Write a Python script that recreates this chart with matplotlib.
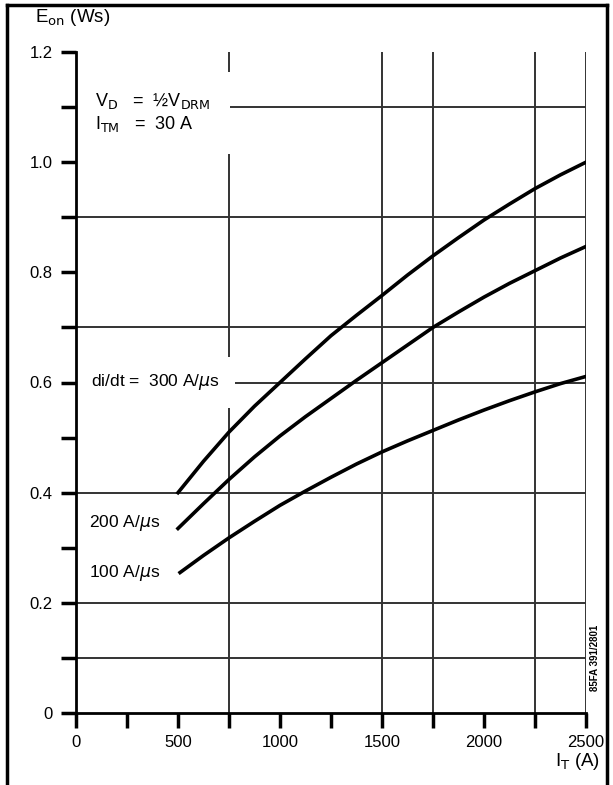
import matplotlib.pyplot as plt
from matplotlib.lines import Line2D

# turn-on energy vs on-state current
i_300 = [500, 625, 750, 875, 1000, 1125, 1250, 1375, 1500, 1625, 1750, 1875, 2000, 2125, 2250, 2375, 2500]
e_300 = [0.40, 0.457, 0.51, 0.557, 0.60, 0.643, 0.685, 0.722, 0.758, 0.795, 0.83, 0.863, 0.895, 0.924, 0.952, 0.977, 1.00]

i_200 = [500, 625, 750, 875, 1000, 1125, 1250, 1375, 1500, 1625, 1750, 1875, 2000, 2125, 2250, 2375, 2500]
e_200 = [0.335, 0.38, 0.424, 0.465, 0.503, 0.538, 0.571, 0.604, 0.636, 0.668, 0.70, 0.728, 0.755, 0.78, 0.803, 0.826, 0.847]

i_100 = [510, 625, 750, 875, 1000, 1125, 1250, 1375, 1500, 1625, 1750, 1875, 2000, 2125, 2250, 2375, 2500]
e_100 = [0.255, 0.286, 0.318, 0.348, 0.377, 0.403, 0.428, 0.452, 0.474, 0.494, 0.513, 0.532, 0.55, 0.567, 0.583, 0.598, 0.611]

x_ticks = [0, 250, 500, 750, 1000, 1250, 1500, 1750, 2000, 2250, 2500]
x_labels = ['0', '', '500', '', '1000', '', '1500', '', '2000', '', '2500']
y_major = [0, 0.2, 0.4, 0.6, 0.8, 1.0, 1.2]
y_minor = [0.1, 0.3, 0.5, 0.7, 0.9, 1.1]
x_grid = [750, 1500, 1750, 2250, 2500]
y_grid = [0.1, 0.2, 0.4, 0.6, 0.7, 0.9, 1.1]

plt.rcParams['font.family'] = ['Liberation Sans', 'DejaVu Sans']

fig = plt.figure(figsize=(6.13, 7.85), dpi=100)
ax = fig.add_axes([76/613, 1 - 713/785, 510/613, 661/785])

# grid lines of the datasheet (only some positions)
for x in x_grid:
    ax.axvline(x, color='#333333', lw=1.4, zorder=1)
for y in y_grid:
    ax.axhline(y, color='#333333', lw=1.4, zorder=1)

ax.plot(i_300, e_300, color='black', lw=2.6, zorder=3)
ax.plot(i_200, e_200, color='black', lw=2.6, zorder=3)
ax.plot(i_100, e_100, color='black', lw=2.6, zorder=3)

ax.set_xlim(0, 2500)
ax.set_ylim(0, 1.2)
ax.set_xticks(x_ticks)
ax.set_xticklabels(x_labels)
ax.set_yticks(y_major)
ax.set_yticklabels(['0', '0.2', '0.4', '0.6', '0.8', '1.0', '1.2'])
ax.set_yticks(y_minor, minor=True)
ax.tick_params(axis='both', which='both', direction='out', length=11, width=2.5,
               labelsize=12, color='black')
ax.tick_params(axis='y', pad=6)
ax.tick_params(axis='x', pad=5)

for s in ['top', 'right']:
    ax.spines[s].set_visible(False)
for s in ['left', 'bottom']:
    ax.spines[s].set_linewidth(2)

ax.text(95, 1.09, r'V$_{\rm D}$   =  ½V$_{\rm DRM}$' + '\n' + r'I$_{\rm TM}$   =  30 A',
        fontsize=13, va='center', ha='left', linespacing=1.2,
        bbox=dict(facecolor='white', edgecolor='none', pad=14), zorder=2)
ax.text(75, 0.60, r'di/dt =  300 A/$\mu$s', fontsize=12.5, va='center', ha='left',
        bbox=dict(facecolor='white', edgecolor='none', pad=11), zorder=2)
ax.text(65, 0.345, r'200 A/$\mu$s', fontsize=12.5, va='center', ha='left', zorder=2)
ax.text(65, 0.255, r'100 A/$\mu$s', fontsize=12.5, va='center', ha='left', zorder=2)
ax.text(2545, 0.04, '85FA 391/2801', fontsize=7, rotation=90, ha='center', va='bottom',
        fontweight='bold')

fig.text(35/613, 1 - 17/785, r'E$_{\rm on}$ (Ws)', fontsize=13.5, va='center', ha='left')
fig.text(578/613, 1 - 762/785, r'I$_{\rm T}$ (A)', fontsize=13.5, va='center', ha='center')

# frame around the whole figure
for xs, ys in [([7/613, 7/613], [0, 1 - 5/785]),
               ([7/613, 607/613], [1 - 5/785, 1 - 5/785]),
               ([607/613, 607/613], [1 - 5/785, 0])]:
    fig.add_artist(Line2D(xs, ys, color='black', lw=2.5, transform=fig.transFigure))

fig.savefig('out.png', dpi=100)
